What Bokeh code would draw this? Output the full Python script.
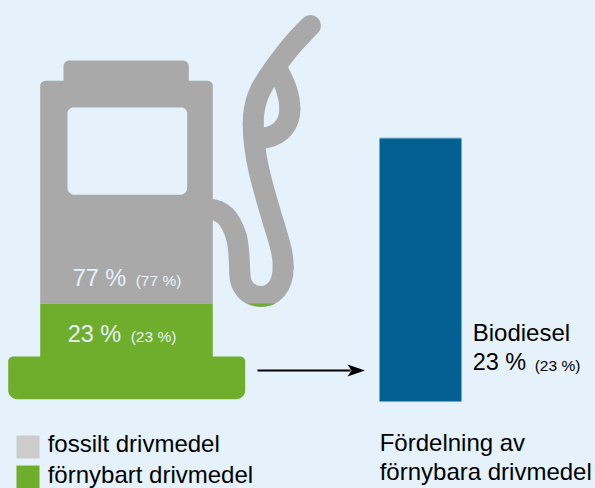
import math
from bokeh.plotting import figure
from bokeh.embed import file_html
from bokeh.resources import INLINE
from bokeh.core.properties import value
from bokeh.models import Range1d, GlobalInlineStyleSheet

# chart values
fuel_names = ["fossilt drivmedel", "förnybart drivmedel"]
fuel_shares = [77, 23]
fuel_shares_prev = [77, 23]
renewable_name = ["Biodiesel"]
renewable_shares = [23]
renewable_shares_prev = [23]
caption = ["Fördelning av", "förnybara drivmedel"]

BG = "#e5f2fb"
GRAY = "#a9a9a9"
GREEN = "#6fae2d"
BLUE = "#036092"
SWATCH = "#cccccc"
FONT = value("Liberation Sans")

p = figure(width=595, height=488, x_range=Range1d(0, 595), y_range=Range1d(488, 0),
           toolbar_location=None, output_backend="svg", min_border=0,
           background_fill_color=BG, border_fill_color=BG, outline_line_color=None)
p.axis.visible = False
p.grid.visible = False
p.stylesheets = [GlobalInlineStyleSheet(css="body{margin:0!important;background:#e5f2fb;overflow:hidden}")]


def rrect(x0, y0, x1, y1, tl=0, tr=0, br=0, bl=0):
    corners = [(x0 + tl, y0 + tl, tl, 180), (x1 - tr, y0 + tr, tr, 270),
               (x1 - br, y1 - br, br, 0), (x0 + bl, y1 - bl, bl, 90)]
    xs, ys = [], []
    for cx, cy, r, start in corners:
        for i in range(9):
            a = math.radians(start + i * 90 / 8)
            xs.append(cx + r * math.cos(a))
            ys.append(cy + r * math.sin(a))
    return xs, ys


def shape(xy, color):
    p.patch(xy[0], xy[1], fill_color=color, line_color=None)


# pump body, fossil part
shape(rrect(63, 60, 188.3, 90, tl=6, tr=6), GRAY)
shape(rrect(39.7, 80.3, 212.3, 303, tl=5, tr=5), GRAY)
shape(rrect(67, 107, 186.7, 194.3, tl=6, tr=6, br=7, bl=7), BG)

# renewable part
shape(rrect(39.7, 303, 212.3, 360), GREEN)
shape(rrect(7.7, 356, 244.7, 398.7, tl=5, tr=5, br=9, bl=9), GREEN)

# hose
Z = 1 / 3
segments = [
    # nozzle to left side of the loop
    (930, 75, 880, 125, 860, 150, 820, 205),
    (820, 205, 780, 260, 758, 300, 758, 370),
    (758, 370, 758, 470, 790, 570, 820, 670),
    (820, 670, 840, 735, 848, 760, 848, 800),
    # bottom of the U
    (848, 800, 848, 860, 815, 888, 782, 888),
    (782, 888, 745, 888, 718, 860, 718, 820),
    (718, 820, 716, 770, 716, 740, 708, 710),
    (708, 710, 690, 650, 665, 628, 625, 626),
    # teardrop
    (835, 215, 850, 245, 868, 280, 868, 325),
    (868, 325, 868, 385, 825, 412, 775, 414),
]
for s in segments:
    x0, y0, cx0, cy0, cx1, cy1, x1, y1 = [v * Z for v in s]
    p.bezier(x0=[x0], y0=[y0], x1=[x1], y1=[y1], cx0=[cx0], cy0=[cy0], cx1=[cx1], cy1=[cy1],
             line_color=GRAY, line_width=21, line_cap="round")
p.patch([247, 252, 256, 261, 266, 271, 275], [303, 304.8, 305.8, 306.2, 305.8, 304.8, 303],
        fill_color=GREEN, line_color=None)

# arrow
p.line([257, 350], [370, 370], line_color="black", line_width=2)
p.patch([347, 364.5, 347, 351], [364, 370, 376, 370], fill_color="black", line_color=None)

# blue bar, scaled on its own range: the biodiesel share fills the bar
BAR_PX_PER_PCT = (401 - 137.7) / renewable_shares[0]
p.extra_y_ranges["share"] = Range1d(-(488 - 401) / BAR_PX_PER_PCT, 401 / BAR_PX_PER_PCT)
p.vbar(x=[420], width=82, bottom=[0], top=renewable_shares, y_range_name="share",
       fill_color=BLUE, line_color=None)
p.line([379, 461], [137.2, 137.2], line_color="#a9cfe3", line_width=1)

# legend swatches
p.quad(left=[16, 16], right=[39, 39], top=[435, 465], bottom=[458, 488],
       fill_color=[SWATCH, GREEN], line_color=None)


def t(x, y, s, size, color="black"):
    p.text(x=[x - 0.8], y=[y - 0.4 * size], text=[s], text_font=FONT, text_font_size=f"{size}px",
           text_color=color, text_align="left", text_baseline="alphabetic")


t(73, 286.7, f"{fuel_shares[0]} %", 23.5, BG)
t(136, 286.5, f"({fuel_shares_prev[0]} %)", 15.5, BG)
t(68, 342.7, f"{fuel_shares[1]} %", 23.5, BG)
t(131, 342.5, f"({fuel_shares_prev[1]} %)", 15.5, BG)
t(48, 452.7, fuel_names[0], 24)
t(48, 484, fuel_names[1], 24)
t(473, 341.7, renewable_name[0], 24)
t(473, 370.7, f"{renewable_shares[0]} %", 23.5)
t(535, 370.7, f"({renewable_shares_prev[0]} %)", 15.5)
t(380, 451.7, caption[0], 24)
t(380, 481, caption[1], 24)

open("out.html", "w").write(file_html(p, INLINE))
